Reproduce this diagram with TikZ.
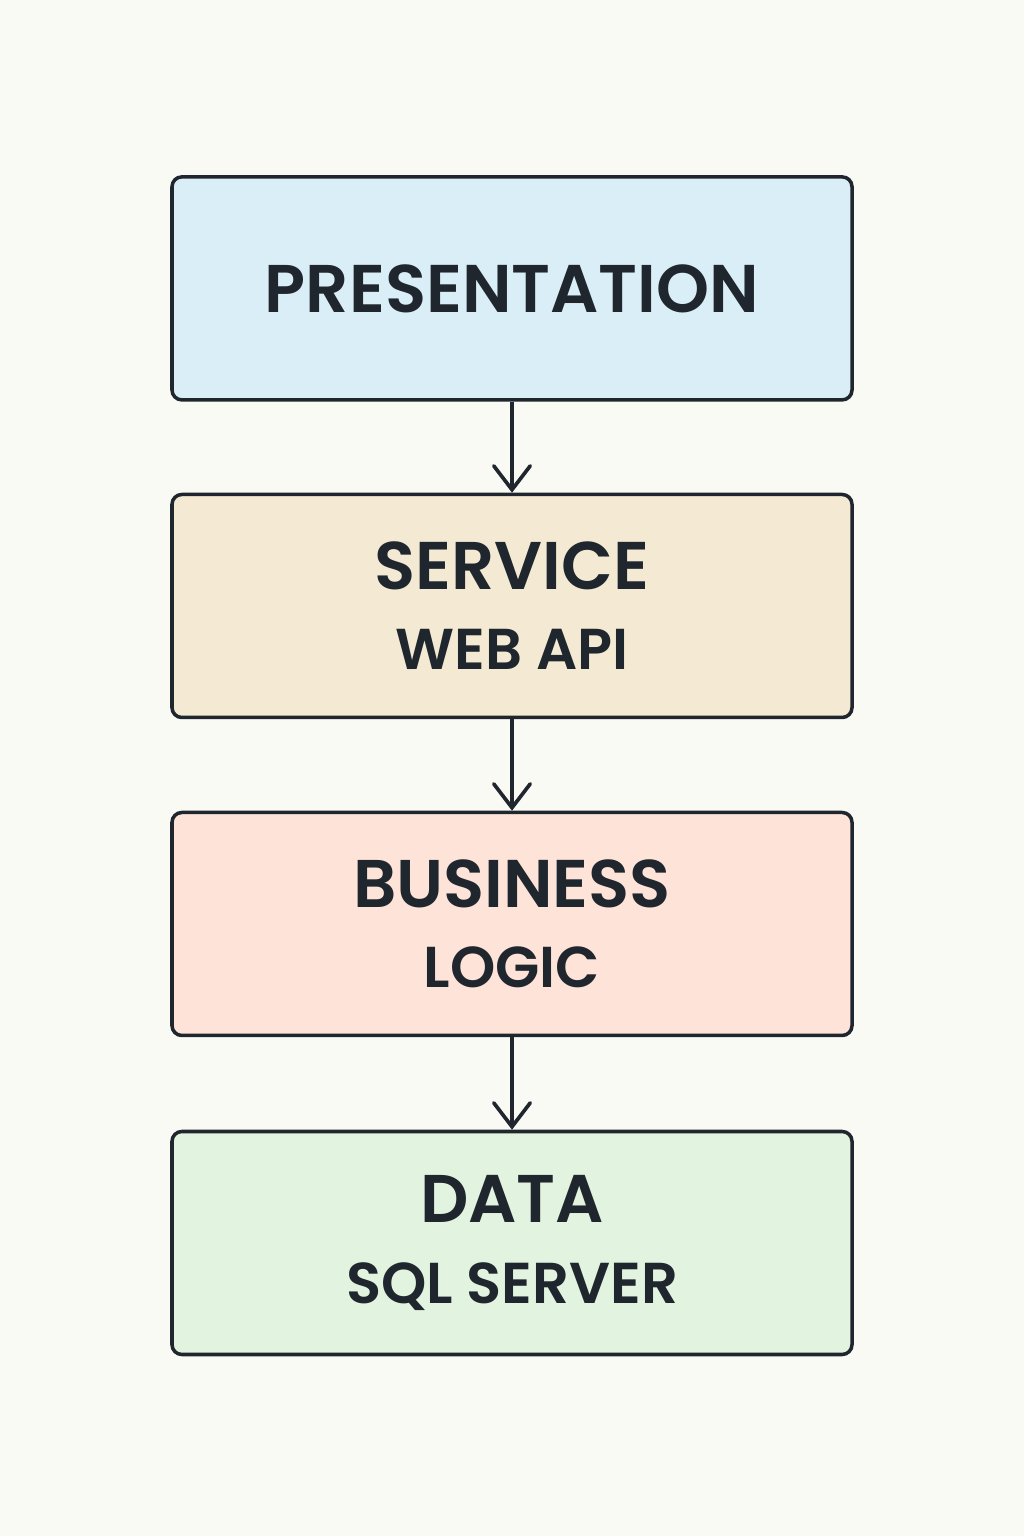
\documentclass[tikz,border=0pt]{standalone}
\usepackage{fontspec}
\setmainfont{Poppins SemiBold}
\usepackage{tikz}
\usetikzlibrary{arrows.meta}

\definecolor{bgcol}{HTML}{FAFAF5}
\definecolor{inkcol}{HTML}{1F262D}
\definecolor{presfill}{HTML}{DAEEF8}
\definecolor{servfill}{HTML}{F4EAD3}
\definecolor{busfill}{HTML}{FDE3D8}
\definecolor{datafill}{HTML}{E2F3DF}

\newcommand{\sublayer}{\fontsize{41}{56}\selectfont}

\begin{document}
\begin{tikzpicture}[
		layer_style/.style={rectangle,rounded corners=7pt,draw=inkcol,line width=2.5pt,
			minimum width=17cm,minimum height=5.575cm,align=center,text=inkcol,
			font=\fontsize{48}{56}\selectfont},
		edge_style/.style={draw=inkcol,line width=2.6pt,
			-{Straight Barb[length=17pt,width=26pt,line cap=round]}}]

		\fill[bgcol] (0,0) rectangle (25.6,38.4);

		\node[layer_style,fill=presfill] (n0) at (12.8,31.19)  {PRESENTATION};
		\node[layer_style,fill=servfill] (n1) at (12.8,23.25)  {SERVICE\\[1pt]\sublayer WEB API};
		\node[layer_style,fill=busfill]  (n2) at (12.8,15.30)  {BUSINESS\\[1pt]\sublayer LOGIC};
		\node[layer_style,fill=datafill] (n3) at (12.8,7.325)  {DATA\\[1pt]\sublayer SQL SERVER};

		\draw[edge_style]  (n0) -- (n1);
		\draw[edge_style]  (n1) -- (n2);
		\draw[edge_style]  (n2) -- (n3);
\end{tikzpicture}
\end{document}
